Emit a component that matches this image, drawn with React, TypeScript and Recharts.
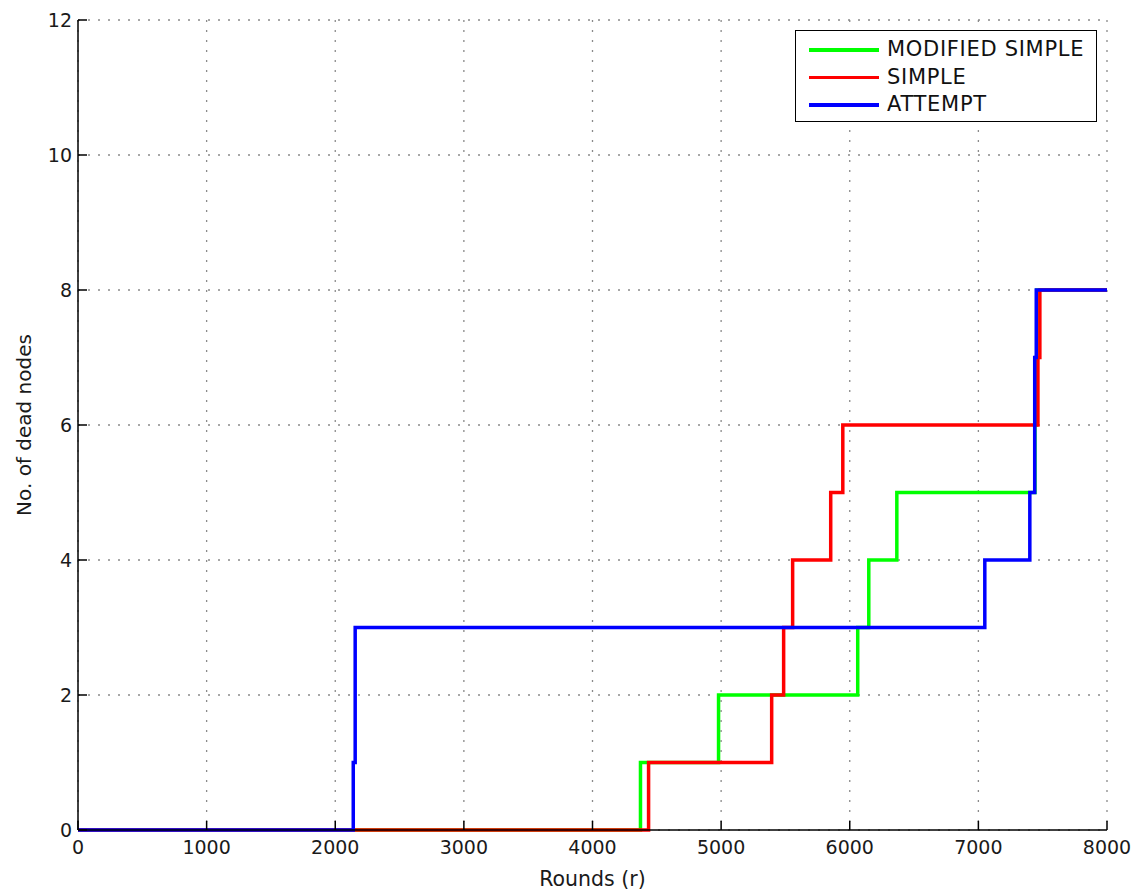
import React from 'react';
import { LineChart, Line, XAxis, YAxis, CartesianGrid } from 'recharts';

const greenX = [0, 4373, 4980, 6062, 6148, 6366, 7440, 7448, 7455, 8000];
const greenY = [0, 1, 2, 3, 4, 5, 6, 7, 8, 8];
const redX = [0, 4436, 5393, 5486, 5556, 5852, 5946, 7463, 7478, 8000];
const redY = [0, 1, 2, 3, 4, 5, 6, 7, 8, 8];
const blueX = [0, 2140, 2155, 7050, 7400, 7438, 7450, 8000];
const blueY = [0, 1, 3, 4, 5, 7, 8, 8];

const xTicks = [0, 1000, 2000, 3000, 4000, 5000, 6000, 7000, 8000];
const yTicks = [0, 2, 4, 6, 8, 10, 12];

const seriesNames = ['MODIFIED SIMPLE', 'SIMPLE', 'ATTEMPT'];
const seriesColors = ['#00ff00', '#ff0000', '#0000ff'];

const toPoints = (xs: number[], ys: number[]) => xs.map((x, i) => ({ x, y: ys[i] }));
const greenData = toPoints(greenX, greenY);
const redData = toPoints(redX, redY);
const blueData = toPoints(blueX, blueY);

const FONT = '"DejaVu Sans", Arial, sans-serif';

const LegendBox = () => (
  <div
    style={{
      position: 'absolute',
      left: 787,
      top: 22,
      width: 302,
      height: 92,
      border: '1.5px solid #000',
      background: '#fff',
      boxSizing: 'border-box',
      paddingTop: 5,
      fontFamily: FONT,
    }}
  >
    {seriesNames.map((n, i) => (
      <div key={n} style={{ display: 'flex', alignItems: 'center', height: 27.5 }}>
        <div style={{ marginLeft: 13, width: 70, height: 3.5, background: seriesColors[i] }} />
        <span style={{ marginLeft: 8, fontSize: 21, letterSpacing: 0.7, color: '#111', lineHeight: '27px' }}>{n}</span>
      </div>
    ))}
  </div>
);

export default function App() {
  const tickStyle = { fontFamily: FONT, fontSize: 19, fill: '#1a1a1a' };
  return (
    <div style={{ position: 'relative', width: 1130, height: 882, background: '#fff' }}>
      <LineChart width={1130} height={882} margin={{ top: 12, right: 31, bottom: 0, left: 0 }}>
        <CartesianGrid xAxisId="bottom" yAxisId="left" stroke="#8a8a8a" strokeDasharray="2 8" strokeWidth={1.3} horizontalValues={yTicks} verticalValues={xTicks} />
        <XAxis
          xAxisId="bottom"
          dataKey="x"
          type="number"
          domain={[0, 8000]}
          ticks={xTicks}
          height={60}
          stroke="#000"
          strokeWidth={1.5}
          tickSize={-9}
          tickMargin={20}
          tick={tickStyle}
          allowDataOverflow
          label={{ value: 'Rounds (r)', position: 'insideBottom', offset: 4, style: { fontFamily: FONT, fontSize: 20.5, fill: '#1a1a1a' } }}
        />
        <XAxis
          xAxisId="top"
          orientation="top"
          dataKey="x"
          type="number"
          domain={[0, 8000]}
          ticks={xTicks}
          height={0}
          stroke="#000"
          strokeWidth={1.5}
          tickSize={-9}
          tick={false}
        />
        <YAxis
          yAxisId="left"
          type="number"
          domain={[0, 12]}
          ticks={yTicks}
          width={70}
          stroke="#000"
          strokeWidth={1.5}
          tickSize={-9}
          tickMargin={15}
          tick={tickStyle}
          label={{ value: 'No. of dead nodes', angle: -90, position: 'insideLeft', offset: 16, style: { textAnchor: 'middle', fontFamily: FONT, fontSize: 20, fill: '#1a1a1a' } }}
        />
        <YAxis
          yAxisId="right"
          orientation="right"
          type="number"
          domain={[0, 12]}
          ticks={yTicks}
          width={0}
          stroke="#000"
          strokeWidth={1.5}
          tickSize={-9}
          tick={false}
        />
        <Line xAxisId="bottom" yAxisId="left" data={greenData} dataKey="y" type="stepAfter" stroke={seriesColors[0]} strokeWidth={3.5} dot={false} isAnimationActive={false} name={seriesNames[0]} />
        <Line xAxisId="bottom" yAxisId="left" data={redData} dataKey="y" type="stepAfter" stroke={seriesColors[1]} strokeWidth={3.5} dot={false} isAnimationActive={false} name={seriesNames[1]} />
        <Line xAxisId="bottom" yAxisId="left" data={blueData} dataKey="y" type="stepAfter" stroke={seriesColors[2]} strokeWidth={3.5} dot={false} isAnimationActive={false} name={seriesNames[2]} />
      </LineChart>
      <LegendBox />
    </div>
  );
}
